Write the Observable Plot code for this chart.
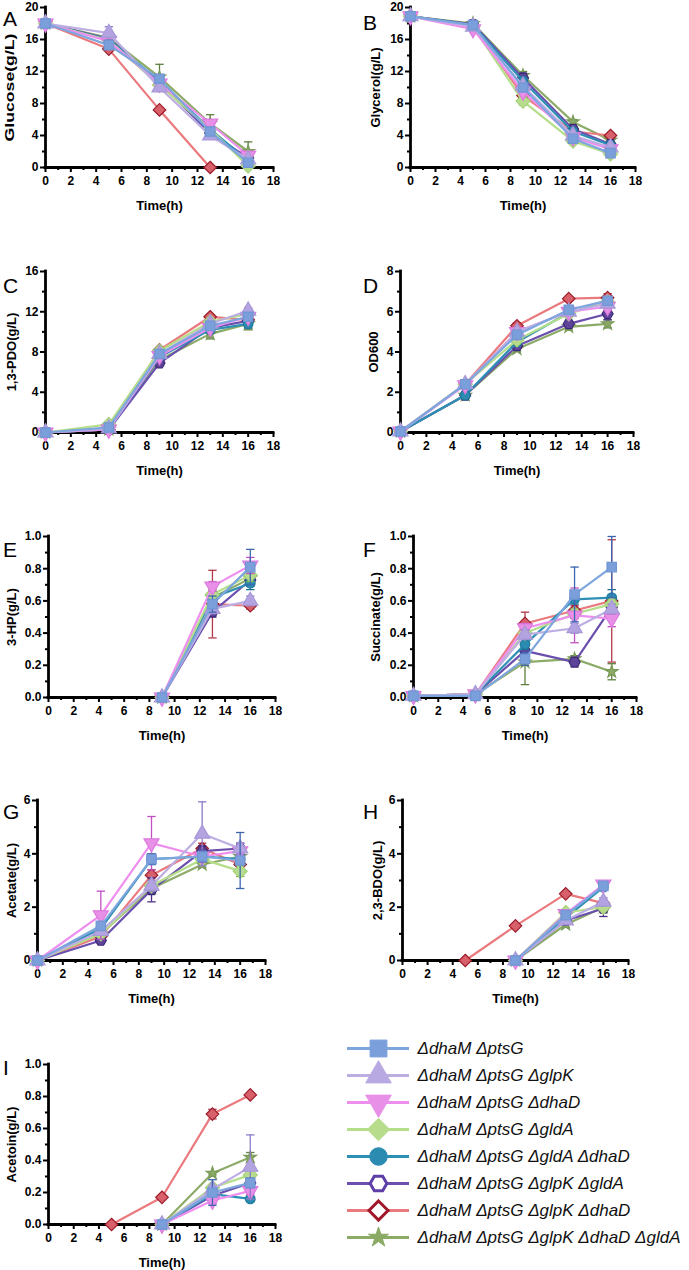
<!DOCTYPE html>
<html>
<head>
<meta charset="utf-8">
<script src="https://cdn.jsdelivr.net/npm/d3@7"></script>
<script src="https://cdn.jsdelivr.net/npm/@observablehq/plot@0.6"></script>
<style>
  html, body { margin: 0; padding: 0; background: #ffffff; }
  #figure { position: relative; width: 689px; height: 1270px; font-family: "Liberation Sans", Arial, sans-serif; }
  .letter { position: absolute; font-size: 21px; line-height: 21px; color: #000; }
</style>
</head>
<body>
<div id="figure"></div>
<script>
// Sampling times (h)
const time = [0, 5, 9, 13, 16];

const strains = [
  "ΔdhaM ΔptsG",
  "ΔdhaM ΔptsG ΔglpK",
  "ΔdhaM ΔptsG ΔdhaD",
  "ΔdhaM ΔptsG ΔgldA",
  "ΔdhaM ΔptsG ΔgldA ΔdhaD",
  "ΔdhaM ΔptsG ΔglpK ΔgldA",
  "ΔdhaM ΔptsG ΔglpK ΔdhaD",
  "ΔdhaM ΔptsG ΔglpK ΔdhaD ΔgldA"
];

// Glucose (g/L), one row per strain
const glucose = [
  [18, 15.3, 11.1, 4.5, 0.6],
  [18, 16.8, 10.0, 4.0, 1.0],
  [18, 15.8, 10.5, 5.5, 1.5],
  [18, 15.9, 10.3, 4.8, 0.2],
  [18, 16.0, 10.8, 4.8, 0.8],
  [18, 16.1, 10.6, 4.3, 1.2],
  [18, 14.8, 7.2, 0, null],
  [18, 16.2, 11.3, 5.5, 2.0]
];
const glucoseSd = [
  [0, 0.3, 0.3, 0.5, 0.3],
  [0, 0.8, 0.4, 0.3, 0.3],
  [0, 0.3, 0.4, 0.4, 0.3],
  [0, 0, 0.3, 0.3, 0.2],
  [0, 0, 0.3, 0.3, 0.3],
  [0, 0, 0.3, 0.3, 0.3],
  [0, 0.2, 0, 0, null],
  [0, 0.3, 1.6, 1.1, 1.2]
];

// Glycerol (g/L)
const glycerol = [
  [18.9, 17.8, 10.0, 3.6, 1.8],
  [18.9, 17.6, 10.2, 4.0, 2.5],
  [18.9, 17.3, 9.5, 3.8, 2.3],
  [18.9, 17.6, 8.3, 3.3, 1.7],
  [18.9, 17.8, 10.8, 4.5, 2.8],
  [18.9, 17.9, 11.2, 4.8, 2.9],
  [18.9, 17.7, 9.0, 4.5, 4.0],
  [18.9, 18.0, 11.5, 5.7, 3.4]
];
const glycerolSd = [
  [0, 0.4, 0.3, 0.3, 0.2],
  [0, 0.3, 0.3, 0.2, 0.2],
  [0, 0.3, 0.3, 0.2, 0.2],
  [0, 0.3, 0.5, 0.2, 0.2],
  [0, 0.3, 0.4, 0.2, 0.2],
  [0, 0.3, 0.6, 0.2, 0.2],
  [0, 0.3, 0.3, 0.2, 0.2],
  [0, 0.3, 0.5, 0.3, 0.2]
];

// 1,3-propanediol (g/L)
const pdo = [
  [0, 0.5, 7.8, 10.6, 11.5],
  [0, 0.4, 7.8, 10.8, 12.1],
  [0, 0.3, 7.6, 10.4, 11.5],
  [0, 0.8, 8.1, 11.0, 11.8],
  [0, 0.3, 7.5, 10.2, 10.8],
  [0, 0.3, 6.9, 10.4, 11.1],
  [0, 0.3, 8.2, 11.5, 11.2],
  [0, 0.3, 7.2, 9.8, 10.8]
];
const pdoSd = [
  [0, 0.1, 0.2, 0.3, 0.3],
  [0, 0.1, 0.2, 0.2, 0.3],
  [0, 0.1, 0.2, 0.2, 0.3],
  [0, 0.1, 0.2, 0.2, 0.3],
  [0, 0.1, 0.2, 0.3, 0.4],
  [0, 0.1, 0.2, 0.2, 0.3],
  [0, 0.1, 0.2, 0.2, 0.2],
  [0, 0.1, 0.2, 0.5, 0.6]
];

// Cell density (OD600)
const od600 = [
  [0.05, 2.4, 4.85, 6.1, 6.55],
  [0.05, 2.4, 5.0, 6.0, 6.4],
  [0.05, 2.35, 5.0, 6.0, 6.25],
  [0.05, 2.4, 4.6, 5.9, 6.5],
  [0.05, 1.85, 4.5, 5.95, 6.5],
  [0.05, 1.85, 4.3, 5.4, 5.9],
  [0.05, 2.4, 5.3, 6.65, 6.7],
  [0.05, 1.85, 4.15, 5.25, 5.4]
];
const od600Sd = [
  [0, 0.1, 0.1, 0.15, 0.2],
  [0, 0.1, 0.1, 0.15, 0.2],
  [0, 0.1, 0.1, 0.15, 0.2],
  [0, 0.1, 0.1, 0.15, 0.2],
  [0, 0.05, 0.1, 0.15, 0.2],
  [0, 0.05, 0.1, 0.1, 0.3],
  [0, 0.1, 0.15, 0.1, 0.2],
  [0, 0.05, 0.1, 0.1, 0.2]
];

// 3-hydroxypropionate (g/L)
const hp3 = [
  [null, null, 0, 0.58, 0.81],
  [null, null, 0, 0.55, 0.60],
  [null, null, 0, 0.69, 0.82],
  [null, null, 0, 0.64, 0.76],
  [null, null, 0, 0.62, 0.71],
  [null, null, 0, 0.53, 0.73],
  [null, null, 0, 0.58, 0.57],
  [null, null, 0, 0.62, 0.74]
];
const hp3Sd = [
  [null, null, 0, 0.05, 0.11],
  [null, null, 0, 0.03, 0.03],
  [null, null, 0, 0.03, 0.05],
  [null, null, 0, 0.03, 0.04],
  [null, null, 0, 0.04, 0.04],
  [null, null, 0, 0.03, 0.04],
  [null, null, 0, 0.21, 0.02],
  [null, null, 0, 0.03, 0.04]
];

// Succinate (g/L)
const succinate = [
  [0.01, 0.01, 0.24, 0.64, 0.81],
  [0.01, 0.02, 0.39, 0.43, 0.55],
  [0.01, 0.02, 0.43, 0.51, 0.49],
  [0.01, 0.02, 0.40, 0.52, 0.58],
  [0.01, 0.02, 0.33, 0.61, 0.62],
  [0.01, 0.02, 0.29, 0.22, 0.56],
  [0.01, 0.02, 0.46, 0.54, 0.60],
  [0.01, 0.02, 0.22, 0.24, 0.16]
];
const succinateSd = [
  [0, 0, 0.04, 0.17, 0.19],
  [0, 0, 0.03, 0.03, 0.03],
  [0, 0, 0.03, 0.17, 0.05],
  [0, 0, 0.03, 0.03, 0.03],
  [0, 0, 0.03, 0.03, 0.05],
  [0, 0, 0.03, 0.03, 0.03],
  [0, 0, 0.07, 0.03, 0.38],
  [0, 0, 0.14, 0.02, 0.05]
];

// Acetate (g/L)
const acetate = [
  [0, 1.3, 3.8, 3.9, 3.75],
  [0, 1.1, 2.8, 4.75, 4.2],
  [0, 1.7, 4.4, 3.9, 4.1],
  [0, 1.0, 2.8, 3.8, 3.35],
  [0, 1.2, 3.8, 3.9, 3.8],
  [0, 0.75, 2.65, 4.1, 4.2],
  [0, 0.9, 3.2, 4.2, 3.6],
  [0, 1.0, 2.7, 3.6, 3.9]
];
const acetateSd = [
  [0, 0.1, 0.2, 0.2, 1.05],
  [0, 0.1, 0.2, 1.2, 0.2],
  [0, 0.9, 1.0, 0.2, 0.2],
  [0, 0.1, 0.2, 0.2, 0.2],
  [0, 0.1, 0.2, 0.2, 0.2],
  [0, 0.1, 0.45, 0.2, 0.2],
  [0, 0.1, 0.2, 0.2, 0.2],
  [0, 0.1, 0.2, 0.1, 0.2]
];

// 2,3-butanediol (g/L)
const bdo = [
  [null, null, 0, 1.7, 2.8],
  [null, null, 0, 1.5, 2.2],
  [null, null, 0, 1.75, 2.85],
  [null, null, 0, 1.8, 2.0],
  [null, null, 0, 1.6, 2.75],
  [null, null, 0, 1.5, 1.95],
  [null, 0, 1.3, 2.5, 2.15],
  [null, null, 0, 1.35, 2.0]
];
const bdoSd = [
  [null, null, 0, 0.1, 0.1],
  [null, null, 0, 0.1, 0.15],
  [null, null, 0, 0.1, 0.1],
  [null, null, 0, 0.1, 0.1],
  [null, null, 0, 0.1, 0.1],
  [null, null, 0, 0.1, 0.3],
  [null, 0, 0, 0.05, 0.05],
  [null, null, 0, 0.1, 0.1]
];

// Acetoin (g/L)
const acetoin = [
  [null, null, 0, 0.2, 0.26],
  [null, null, 0, 0.22, 0.36],
  [null, null, 0, 0.15, 0.21],
  [null, null, 0, 0.23, 0.31],
  [null, null, 0, 0.19, 0.16],
  [null, null, 0, 0.18, 0.26],
  [null, 0, 0.17, 0.69, 0.81],
  [null, null, 0, 0.32, 0.42]
];
const acetoinSd = [
  [null, null, 0, 0.08, 0.03],
  [null, null, 0, 0.02, 0.2],
  [null, null, 0, 0.02, 0.02],
  [null, null, 0, 0.02, 0.02],
  [null, null, 0, 0.02, 0.01],
  [null, null, 0, 0.02, 0.03],
  [null, 0, 0, 0.03, 0],
  [null, null, 0, 0.01, 0.03]
];

// Series styling
const lineColors = ["#7ea6de", "#bcaee3", "#ee8eee", "#b5de8a", "#2e8fb5", "#6a4fae", "#ea7a7e", "#8cab68"];
const fillColors = ["#7b9fdb", "#b3a3e0", "#e890e8", "#b7dc8c", "#2b8bb0", "#5e4499", "#d8606a", "#8aaa66"];
const edgeColors = ["#7096d4", "#a898d8", "#de7ade", "#a6d27a", "#1f7ba0", "#3c2878", "#9b1b2a", "#7a9a58"];
const errColors  = ["#3d66b0", "#8e7cc8", "#c050c0", "#7fb050", "#1d6f90", "#4a2f88", "#b03a4a", "#5f7f40"];

// Custom marker shapes
const triangleDown = {
  draw(ctx, size) {
    const s = Math.sqrt(4 * size / Math.sqrt(3));
    const h = s * Math.sqrt(3) / 2;
    ctx.moveTo(-s / 2, -h / 3);
    ctx.lineTo(s / 2, -h / 3);
    ctx.lineTo(0, 2 * h / 3);
    ctx.closePath();
  }
};
const rhombus = {
  draw(ctx, size) {
    const d = Math.sqrt(size / 2);
    ctx.moveTo(0, -d);
    ctx.lineTo(d, 0);
    ctx.lineTo(0, d);
    ctx.lineTo(-d, 0);
    ctx.closePath();
  }
};
const hexagon = {
  draw(ctx, size) {
    const R = Math.sqrt(2 * size / (3 * Math.sqrt(3)));
    for (let k = 0; k < 6; ++k) {
      const a = k * Math.PI / 3;
      const px = R * Math.cos(a), py = R * Math.sin(a);
      if (k === 0) ctx.moveTo(px, py); else ctx.lineTo(px, py);
    }
    ctx.closePath();
  }
};
const capBar = {
  draw(ctx, size) {
    const r = Math.sqrt(size / Math.PI);
    ctx.moveTo(-r, 0);
    ctx.lineTo(r, 0);
  }
};
const symbols = [d3.symbolSquare, d3.symbolTriangle, triangleDown, rhombus, d3.symbolCircle, hexagon, rhombus, d3.symbolStar];
const markerR = [5.3, 5.6, 5.6, 5.6, 4.8, 5.0, 5.0, 3.9];

const panels = [
  {letter: "A", label: "Glucose(g/L)",   values: glucose,   sd: glucoseSd,   ymax: 20, step: 4,   col: 0, x0: 45,  x1: 273, top: 7,    bottom: 167,  labelDx: -36, letterTop: 10, labelLength: 108},
  {letter: "B", label: "Glycerol(g/L)",  values: glycerol,  sd: glycerolSd,  ymax: 20, step: 4,   col: 1, x0: 410, x1: 635, top: 7,    bottom: 167,  labelDx: -35, letterTop: 14},
  {letter: "C", label: "1,3-PDO(g/L)",   values: pdo,       sd: pdoSd,       ymax: 16, step: 4,   col: 0, x0: 45,  x1: 273, top: 271,  bottom: 432,  labelDx: -34, letterTop: 277},
  {letter: "D", label: "OD600",          values: od600,     sd: od600Sd,     ymax: 8,  step: 2,   col: 1, x0: 400, x1: 633, top: 271,  bottom: 432,  labelDx: -27, letterTop: 277},
  {letter: "E", label: "3-HP(g/L)",      values: hp3,       sd: hp3Sd,       ymax: 1,  step: 0.2, col: 0, x0: 48,  x1: 275, top: 536,  bottom: 697,  labelDx: -37, letterTop: 541},
  {letter: "F", label: "Succinate(g/L)", values: succinate, sd: succinateSd, ymax: 1,  step: 0.2, col: 1, x0: 413, x1: 636, top: 536,  bottom: 697,  labelDx: -38, letterTop: 541},
  {letter: "G", label: "Acetate(g/L)",   values: acetate,   sd: acetateSd,   ymax: 6,  step: 2,   col: 0, x0: 37,  x1: 265, top: 800,  bottom: 960,  labelDx: -26, letterTop: 803},
  {letter: "H", label: "2,3-BDO(g/L)",   values: bdo,       sd: bdoSd,       ymax: 6,  step: 2,   col: 1, x0: 402, x1: 628, top: 800,  bottom: 960,  labelDx: -25, letterTop: 803},
  {letter: "I", label: "Acetoin(g/L)",   values: acetoin,   sd: acetoinSd,   ymax: 1,  step: 0.2, col: 0, x0: 48,  x1: 275, top: 1064, bottom: 1224, labelDx: -37, letterTop: 1059}
];

const figure = document.getElementById("figure");
const FONT = "'Liberation Sans', Arial, sans-serif";
const xMajor = d3.range(0, 19, 2);
const xMinor = d3.range(1, 18, 2);

function makePanel(p) {
  const W = 340, left = p.col * 340, mt = 12, mb = 50;
  const yMajor = d3.range(0, p.ymax + p.step / 2, p.step).map(v => +v.toFixed(4));
  const yMinor = yMajor.slice(0, -1).map(v => +(v + p.step / 2).toFixed(4));
  const fmt = p.step < 1 ? d3.format(".1f") : d3.format("d");

  const marks = [
    Plot.axisX({ticks: xMajor, tickSize: 5, tickPadding: 4, strokeWidth: 2, label: null, tickFormat: d3.format("d")}),
    Plot.axisX({ticks: xMinor, tickSize: 3, strokeWidth: 2, text: null, label: null}),
    Plot.axisY({ticks: yMajor, tickSize: 5, tickPadding: 2, strokeWidth: 2, label: null, tickFormat: fmt}),
    Plot.axisY({ticks: yMinor, tickSize: 3, strokeWidth: 2, text: null, label: null}),
    Plot.ruleY([0], {stroke: "#000", strokeWidth: 2.8, strokeLinecap: "square"}),
    Plot.ruleX([0], {stroke: "#000", strokeWidth: 2.8, strokeLinecap: "square"}),
    Plot.text([p.label], {text: d => d, frameAnchor: "left", rotate: -90, dx: p.labelDx, fontSize: 13, fontWeight: "bold", textAnchor: "middle", lineAnchor: "middle"}),
    Plot.text(["Time(h)"], {text: d => d, frameAnchor: "bottom", dy: 38, fontSize: 13, fontWeight: "bold", lineAnchor: "middle"})
  ];

  // Last strain drawn first so the first strain sits on top
  for (let i = strains.length - 1; i >= 0; --i) {
    const rows = time
      .map((t, j) => ({t, v: p.values[i][j], sd: p.sd[i][j] || 0}))
      .filter(d => d.v != null);
    const withErr = rows.filter(d => d.sd > 0);
    marks.push(
      Plot.ruleX(withErr, {x: "t", y1: d => d.v - d.sd, y2: d => d.v + d.sd, stroke: errColors[i], strokeWidth: 1.3}),
      Plot.dot(withErr, {x: "t", y: d => d.v + d.sd, symbol: capBar, r: 4.2, fill: "none", stroke: errColors[i], strokeWidth: 1.3}),
      Plot.dot(withErr, {x: "t", y: d => d.v - d.sd, symbol: capBar, r: 4.2, fill: "none", stroke: errColors[i], strokeWidth: 1.3}),
      Plot.line(rows, {x: "t", y: "v", stroke: lineColors[i], strokeWidth: 2.2}),
      Plot.dot(rows, {x: "t", y: "v", symbol: symbols[i], r: markerR[i], fill: fillColors[i], stroke: edgeColors[i], strokeWidth: 1.2})
    );
  }

  const chart = Plot.plot({
    width: W,
    height: (p.bottom - p.top) + mt + mb,
    marginLeft: p.x0 - left,
    marginRight: W - (p.x1 - left),
    marginTop: mt,
    marginBottom: mb,
    x: {domain: [0, 18]},
    y: {domain: [0, p.ymax]},
    style: {fontFamily: FONT, fontSize: "12px", fontWeight: "bold", color: "#000", background: "transparent", overflow: "visible"},
    marks
  });
  // Stretch the y-axis title where its run is wider than the plain font
  if (p.labelLength) {
    chart.querySelectorAll("text").forEach(el => {
      if (el.textContent === p.label) {
        el.setAttribute("textLength", p.labelLength);
        el.setAttribute("lengthAdjust", "spacingAndGlyphs");
      }
    });
  }
  chart.style.position = "absolute";
  chart.style.left = left + "px";
  chart.style.top = (p.top - mt) + "px";
  figure.appendChild(chart);

  const letter = document.createElement("div");
  letter.className = "letter";
  letter.textContent = p.letter;
  letter.style.left = (left + (p.col ? 23 : 3)) + "px";
  letter.style.top = (p.letterTop - 2) + "px";
  figure.appendChild(letter);
}

panels.forEach(makePanel);

// Strain legend
const legendFill = ["#7b9fdb", "#b9a9e2", "#e890e8", "#b7dc8c", "#2b8bb0", "#ffffff", "#ffffff", "#8aaa66"];
const legendEdge = ["#7b9fdb", "#b9a9e2", "#e890e8", "#b7dc8c", "#2b8bb0", "#5e3fa8", "#a0182a", "#8aaa66"];
const legendR = [9.5, 9.5, 9.5, 9, 8.8, 7.6, 7.6, 6.3];
const legendMarks = [];
strains.forEach((s, i) => {
  legendMarks.push(
    Plot.ruleY([s], {y: d => d, stroke: lineColors[i], strokeWidth: 3}),
    Plot.dot([s], {y: d => d, symbol: symbols[i], r: legendR[i], fill: legendFill[i], stroke: legendEdge[i], strokeWidth: (i === 5 || i === 6) ? 3 : 1})
  );
});
legendMarks.push(
  Plot.text(strains, {y: d => d, text: d => d, frameAnchor: "right", dx: 8, textAnchor: "start", fontSize: 17, fontStyle: "italic", fill: "#111"})
);
const legend = Plot.plot({
  width: 369,
  height: 225,
  marginLeft: 27,
  marginRight: 280,
  marginTop: 0,
  marginBottom: 0,
  y: {type: "point", domain: strains, range: [16, 208], padding: 0, axis: null},
  style: {fontFamily: FONT, background: "transparent", overflow: "visible"},
  marks: legendMarks
});
legend.style.position = "absolute";
legend.style.left = "320px";
legend.style.top = "1030px";
figure.appendChild(legend);
</script>
</body>
</html>
